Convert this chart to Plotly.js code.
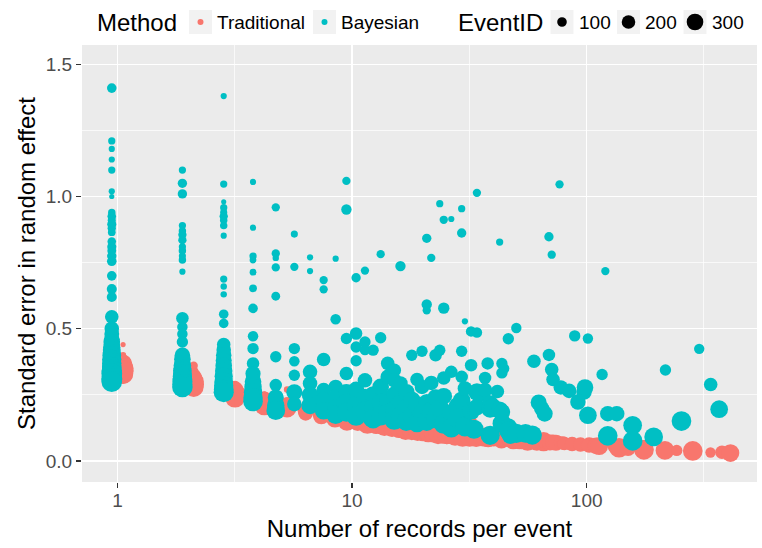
<!DOCTYPE html>
<html><head><meta charset="utf-8">
<script src="https://cdn.plot.ly/plotly-3.0.1.min.js"></script>
<style>html,body{margin:0;padding:0;background:#fff}#chart{width:762px;height:548px}</style>
</head><body><div id="chart"></div>
<script>
// ---- data ----
const records = [
  1,1,1,1,1,1,1,1,1,1,1, 1,1,1,1,1,1,1,1,1,1,1, 1,1,1,1,1,1,1,1,1,1,1, 1,1,1,1,1,1,1,1,1,1,1,
  2,2,2,2,2,2,2,2,2,2,2,2,2,2, 2,2,2,2,2,2,2,2,2,2,2,2,2,2,
  3,3,3,3,3,3,3,3,3,3,3,3,3, 3,3,3,3,3,3,3,3,3,3,3,3,
  4,4,4,4,4,4,4,4,4,4,4,4,4,4,4,4,
  5,5,5,5,5,5,5,5,5,5,
  6,6,6,6,6,6,6, 7,7,7,7,7,7, 8,8,8,8,8,8, 9,9,9,9,9,9,
  10,10,10,10,10,10,10, 11,11,11,11,11,11,11, 12,12,12,12,12,12,
  13,13,13,13, 14,14,14,14,14, 15,15,15,15, 16,16,16,16,16, 17,17,17,17,
  18,18,18, 19,19,19, 20,20,20, 21,21,21, 22,22,22,22,22, 23,23,23, 24,24,24, 25,25,25,
  26,26,26,26,26, 28,28,28,28, 30,30, 31,31,31,31,31, 32,32,32, 34,34,34, 35,35, 36,36,36,36,
  37, 38, 39,39, 40, 41,41,41, 42, 44, 45,45, 46,46,46,46, 47, 49,49,49, 50, 53,53,
  58, 62, 63, 66, 68, 70, 73,73, 75,75, 76, 81, 82, 89, 94, 97, 103, 104, 107,107,
  123, 127, 130,130, 142, 166,166, 204, 229, 268, 319, 357, 388
];
const seBayesian = [
  1.41,1.21,1.18,1.14,1.10,1.02,1.00,0.94,0.925,0.91,0.895,
  0.88,0.865,0.83,0.81,0.795,0.775,0.755,0.70,0.65,0.62,0.545,
  0.50,0.48,0.46,0.45,0.44,0.43,0.42,0.41,0.40,0.39,0.385,
  0.38,0.37,0.36,0.355,0.35,0.34,0.335,0.33,0.32,0.31,0.30,
  1.10,1.05,1.01,0.89,0.87,0.855,0.835,0.81,0.795,0.775,0.76,0.716,0.54,0.507,
  0.48,0.45,0.40,0.385,0.37,0.36,0.35,0.34,0.33,0.32,0.31,0.30,0.29,0.28,
  1.38,1.047,0.98,0.958,0.94,0.925,0.91,0.89,0.852,0.688,0.66,0.63,0.555,
  0.52,0.44,0.42,0.40,0.38,0.36,0.34,0.32,0.30,0.285,0.27,0.26,
  1.055,0.882,0.775,0.76,0.714,0.653,0.577,0.472,0.425,0.369,0.33,0.30,0.28,0.26,0.24,0.225,
  0.959,0.785,0.768,0.732,0.623,0.394,0.287,0.24,0.21,0.19,
  0.858,0.734,0.425,0.377,0.324,0.26,0.215, 0.77,0.718,0.337,0.293,0.25,0.21,
  0.684,0.649,0.384,0.268,0.23,0.19, 0.765,0.536,0.28,0.24,0.20,0.175,
  1.059,0.951,0.463,0.331,0.26,0.22,0.185, 0.693,0.482,0.431,0.379,0.27,0.21,0.17,
  0.72,0.45,0.42,0.305,0.24,0.19,
  0.419,0.25,0.20,0.16, 0.782,0.466,0.28,0.22,0.17, 0.369,0.318,0.23,0.18,
  0.343,0.305,0.25,0.19,0.155, 0.737,0.293,0.22,0.17,
  0.26,0.20,0.15, 0.40,0.23,0.17, 0.308,0.21,0.145, 0.415,0.28,0.18,
  0.842,0.592,0.570,0.22,0.15, 0.768,0.295,0.19, 0.40,0.24,0.16, 0.973,0.419,0.20,
  0.912,0.578,0.314,0.245,0.14, 0.915,0.337,0.18,0.125, 0.207,0.16,
  0.954,0.862,0.415,0.318,0.23, 0.528,0.274,0.13, 0.49,0.362,0.19, 0.195,0.12,
  1.014,0.486,0.261,0.204,
  0.257, 0.255, 0.314,0.268, 0.369, 0.217,0.097,0.198, 0.204, 0.263, 0.828,0.192,
  0.369,0.333,0.185,0.142, 0.35, 0.462,0.129,0.116, 0.098, 0.503,0.104,
  0.104, 0.098, 0.377, 0.221, 0.198, 0.179, 0.848,0.401, 0.78,0.346, 0.308, 1.046,
  0.278, 0.265, 0.473, 0.223, 0.261, 0.278, 0.463,0.173,
  0.327, 0.718, 0.179,0.095, 0.179, 0.135,0.076, 0.091, 0.344, 0.151, 0.424, 0.289, 0.196
];
const seTraditional = [
  0.36,0.38,0.40,0.37,0.39,0.38,0.44,0.36,0.37,0.38,0.35,
  0.36,0.39,0.37,0.36,0.38,0.35,0.37,0.36,0.38,0.35,0.37,
  0.36,0.35,0.36,0.34,0.37,0.35,0.36,0.34,0.35,0.37,0.34,
  0.36,0.35,0.33,0.34,0.36,0.33,0.35,0.34,0.33,0.35,0.34,
  0.33,0.32,0.34,0.33,0.31,0.36,0.30,0.33,0.32,0.31,0.32,0.34,0.32,0.31,
  0.33,0.30,0.32,0.31,0.30,0.29,0.31,0.30,0.28,0.30,0.29,0.30,0.28,0.29,
  0.28,0.29,0.27,0.28,0.27,0.28,0.26,0.27,0.29,0.27,0.28,0.26,0.27,
  0.28,0.26,0.27,0.25,0.26,0.27,0.25,0.26,0.25,0.26,0.25,0.24,
  0.24,0.23,0.25,0.24,0.23,0.24,0.22,0.23,0.24,0.22,0.23,0.22,0.23,0.21,0.22,0.21,
  0.21,0.22,0.27,0.20,0.21,0.22,0.21,0.21,0.20,0.20,
  0.19,0.20,0.19,0.18,0.20,0.19,0.18, 0.18,0.18,0.17,0.18,0.17,0.18,
  0.17,0.17,0.16,0.17,0.165,0.16, 0.16,0.165,0.16,0.155,0.16,0.15,
  0.155,0.16,0.15,0.155,0.15,0.16,0.15, 0.15,0.145,0.15,0.14,0.15,0.145,0.14,
  0.145,0.14,0.145,0.14,0.135,0.14,
  0.14,0.135,0.13,0.135, 0.13,0.135,0.13,0.125,0.13, 0.13,0.125,0.12,0.125,
  0.125,0.12,0.125,0.115,0.12, 0.12,0.115,0.12,0.115,
  0.115,0.11,0.115, 0.11,0.115,0.11, 0.11,0.105,0.11, 0.105,0.11,0.105,
  0.105,0.11,0.10,0.105,0.10, 0.10,0.105,0.10, 0.10,0.095,0.10, 0.10,0.095,0.10,
  0.095,0.10,0.095,0.10,0.095, 0.095,0.09,0.095,0.09, 0.09,0.095,
  0.154,0.09,0.095,0.09,0.095, 0.09,0.095,0.09, 0.09,0.085,0.09, 0.085,0.09,
  0.085,0.09,0.085,0.088,
  0.085, 0.085, 0.082,0.085, 0.088, 0.085,0.088,0.082, 0.085, 0.082, 0.08,0.084,
  0.082,0.08,0.083,0.08, 0.08, 0.08,0.078,0.08, 0.078, 0.077,0.075,
  0.074, 0.073, 0.072, 0.07, 0.071, 0.069, 0.068,0.07, 0.066,0.068, 0.066, 0.065,
  0.064, 0.062, 0.06, 0.06, 0.058, 0.057, 0.058,0.056,
  0.053, 0.053, 0.051,0.05, 0.048, 0.044,0.042, 0.04, 0.04, 0.038, 0.032, 0.033, 0.03
];
const eventId = [
  100,57,42,42,57,42,29,60,80,70,90,
  75,65,80,90,85,95,100,100,110,110,200,
  230,240,260,300,280,320,350,300,380,330,400,
  360,410,390,420,380,450,350,470,420,480,460,
  57,95,95,57,60,75,75,57,60,55,60,42,170,120,
  120,140,260,300,280,340,320,380,360,400,420,440,430,460,
  42,57,29,57,55,75,60,60,42,57,45,45,100,
  100,200,230,260,280,300,330,360,380,400,420,440,
  42,42,57,50,50,65,100,120,140,170,250,300,330,370,400,420,
  75,75,45,75,85,140,170,280,330,380,
  55,75,140,120,140,280,230, 42,42,230,230,300,330,
  75,75,200,230,300,340, 42,120,230,300,330,380,
  75,117,140,200,300,360,400, 95,170,140,140,280,380,420,
  75,140,120,230,330,400,
  140,330,380,420, 75,140,300,360,400, 200,230,330,400,
  200,230,300,380,420, 117,230,330,400,
  300,360,400, 140,330,380, 200,360,400, 140,230,380,
  95,117,75,330,400, 75,230,360, 170,300,400, 57,140,380,
  75,140,200,300,420, 42,170,360,400, 400,440,
  57,95,140,170,330, 42,230,420, 120,170,360, 230,400,
  75,120,330,300,
  230, 280, 170,230, 170, 300,400,360, 330, 200, 57,330,
  140,140,300,380, 120, 140,330,380, 340, 117,400,
  380, 400, 200, 280, 260, 280, 95,170, 75,200, 200, 75,
  230, 230, 140, 260, 260, 300, 117,340,
  140, 75, 260,420, 260, 380,420, 380, 140, 420, 117, 200, 340
];
const methods = ['Traditional', 'Bayesian'];
const methodColors = ['#F8766D', '#00BFC4'];
const sizeBreaks = [100, 200, 300];
const sizeLabels = ['100', '200', '300'];
const xTickVals = [1, 10, 100];
const xTickText = ['1', '10', '100'];
const xMinorVals = [3.162, 31.62, 316.2];
const yTickVals = [0, 0.5, 1.0, 1.5];
const yTickText = ['0.0', '0.5', '1.0', '1.5'];

// ---- scales / position adjustment ----
const FONT = 'Liberation Sans, Arial, Helvetica, sans-serif';
const SIZE_K = 0.96;             // diameter (px) = SIZE_K * sqrt(EventID)
const DODGE = [1.057, 0.946];    // horizontal dodge factor (log scale) for Traditional, Bayesian
const sizeOf = v => SIZE_K * Math.sqrt(v);

const M = {l: 82, r: 5, t: 45, b: 66};
const W = 762, H = 548;
const PW = W - M.l - M.r, PH = H - M.t - M.b;
const px2x = px => (px - M.l) / PW;      // pixel -> paper fraction (legend placement)
const py2y = py => (H - M.b - py) / PH;

const ySeries = [seTraditional, seBayesian];
const traces = [];
methods.forEach((m, k) => {
  traces.push({
    type: 'scatter', mode: 'markers', name: m, showlegend: false,
    x: records.map(n => n * DODGE[k]),
    y: ySeries[k],
    marker: {color: methodColors[k], size: eventId.map(sizeOf), sizemode: 'diameter', opacity: 1, line: {width: 0}},
    hoverinfo: 'skip'
  });
});

// ---- ggplot-style legend built from shapes + annotations ----
const LEG_Y = 22;                     // legend row centre (px)
const methodKeyX = [200.5, 324.5];    // key centres (px)
const methodTextX = [217, 341];
const sizeKeyX = [562, 628.5, 695];
const sizeTextX = [579, 645, 712];
const shapes = [], annotations = [];
const keyBox = cx => ({type: 'rect', xref: 'paper', yref: 'paper', xsizemode: 'pixel', ysizemode: 'pixel',
  xanchor: px2x(cx), yanchor: py2y(LEG_Y), x0: -11.5, x1: 11.5, y0: -12, y1: 12,
  fillcolor: '#F2F2F2', line: {width: 0}, layer: 'below'});
const keyDot = (cx, d, col) => ({type: 'circle', xref: 'paper', yref: 'paper', xsizemode: 'pixel', ysizemode: 'pixel',
  xanchor: px2x(cx), yanchor: py2y(LEG_Y), x0: -d / 2, x1: d / 2, y0: -d / 2, y1: d / 2,
  fillcolor: col, line: {width: 0}, layer: 'above'});
const label = (txt, px, size) => ({text: txt, xref: 'paper', yref: 'paper', x: px2x(px), y: py2y(LEG_Y),
  xanchor: 'left', yanchor: 'middle', showarrow: false, borderpad: 0,
  font: {family: FONT, size: size, color: '#000'}});
annotations.push(label('Method', 96, 24));
methods.forEach((m, k) => {
  shapes.push(keyBox(methodKeyX[k]));
  shapes.push(keyDot(methodKeyX[k], 6, methodColors[k]));
  annotations.push(label(m, methodTextX[k] - 1, 19));
});
annotations.push(label('EventID', 457, 24));
sizeBreaks.forEach((b, k) => {
  shapes.push(keyBox(sizeKeyX[k]));
  shapes.push(keyDot(sizeKeyX[k], sizeOf(b), '#000000'));
  annotations.push(label(sizeLabels[k], sizeTextX[k] - 1, 19));
});

const layout = {
  width: W, height: H,
  margin: {l: M.l, r: M.r, t: M.t, b: M.b, pad: 0, autoexpand: false},
  paper_bgcolor: '#FFFFFF', plot_bgcolor: '#EBEBEB',
  font: {family: FONT, size: 19, color: '#000'},
  showlegend: false,
  xaxis: {
    type: 'log', range: [-0.151, 2.726], autorange: false,
    tickmode: 'array', tickvals: xTickVals, ticktext: xTickText,
    ticks: 'outside', ticklen: 5, tickwidth: 1.1, tickcolor: '#333333',
    ticklabelstandoff: -4,
    tickfont: {family: FONT, size: 19, color: '#4D4D4D'},
    showgrid: true, gridcolor: '#FFFFFF', gridwidth: 1.4,
    minor: {tickmode: 'array', tickvals: xMinorVals, ticks: '', showgrid: true, gridcolor: '#FFFFFF', gridwidth: 0.7},
    zeroline: false, showline: false,
    title: {text: 'Number of records per event', font: {family: FONT, size: 24, color: '#000'}, standoff: 10}
  },
  yaxis: {
    range: [-0.0795, 1.573], autorange: false,
    tickmode: 'array', tickvals: yTickVals, ticktext: yTickText,
    ticks: 'outside', ticklen: 5, tickwidth: 1.1, tickcolor: '#333333',
    tickfont: {family: FONT, size: 19, color: '#4D4D4D'},
    showgrid: true, gridcolor: '#FFFFFF', gridwidth: 1.4,
    minor: {tickmode: 'linear', tick0: 0, dtick: 0.25, ticks: '', showgrid: true, gridcolor: '#FFFFFF', gridwidth: 0.7},
    zeroline: false, showline: false,
    title: {text: 'Standard error in random effect', font: {family: FONT, size: 24, color: '#000'}, standoff: 3}
  },
  shapes: shapes,
  annotations: annotations
};
Plotly.newPlot('chart', traces, layout, {displayModeBar: false, staticPlot: true});
</script>
</body></html>
